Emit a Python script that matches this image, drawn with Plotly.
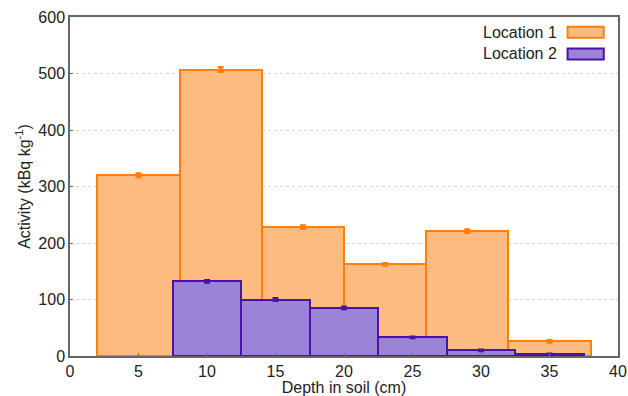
import plotly.graph_objects as go

# Data
loc1_depth = [5, 11, 17, 23, 29, 35]
loc1_width = [6, 6, 6, 6, 6, 6]
loc1_activity = [320, 507, 228, 162, 221, 26]
loc1_err = [3, 4, 3, 2, 3, 2]

loc2_depth = [10, 15, 20, 25, 30, 35]
loc2_width = [5, 5, 5, 5, 5, 5]
loc2_activity = [132, 100, 85, 33, 10, 3]
loc2_err = [2, 2, 2, 1, 1, 1]

x_ticks = [0, 5, 10, 15, 20, 25, 30, 35, 40]
y_ticks = [0, 100, 200, 300, 400, 500, 600]

orange_line = "#FF7F0E"
orange_fill = "#FDBB80"
purple_line = "#4A12A8"
purple_fill = "#9B84D6"

FONT = "Liberation Sans, Arial, sans-serif"
FS = 16

fig = go.Figure()
fig.add_trace(go.Bar(
    x=loc1_depth, y=loc1_activity, width=loc1_width, name="Location 1",
    marker=dict(color=orange_fill, line=dict(color=orange_line, width=2)),
    error_y=dict(type="data", array=loc1_err, color=orange_line, thickness=2.5, width=3),
    showlegend=False,
))
fig.add_trace(go.Bar(
    x=loc2_depth, y=loc2_activity, width=loc2_width, name="Location 2",
    marker=dict(color=purple_fill, line=dict(color=purple_line, width=2)),
    error_y=dict(type="data", array=loc2_err, color=purple_line, thickness=2.5, width=3),
    showlegend=False,
))

# Manual legend (text left of swatch, as in reference)
legend_items = [("Location 1", orange_fill, orange_line), ("Location 2", purple_fill, purple_line)]
for i, (label, fc, lc) in enumerate(legend_items):
    yc = 0.955 - i * 0.064
    fig.add_annotation(xref="paper", yref="paper", x=0.893, y=yc, text=label,
                       showarrow=False, xanchor="right", yanchor="middle",
                       font=dict(family=FONT, size=FS, color="#222"))
    fig.add_shape(type="rect", xref="paper", yref="paper",
                  x0=0.908, x1=0.974, y0=yc - 0.016, y1=yc + 0.016,
                  fillcolor=fc, line=dict(color=lc, width=2))

fig.update_layout(
    width=628, height=396,
    margin=dict(l=70, r=10, t=17, b=40),
    barmode="overlay",
    bargap=0,
    plot_bgcolor="white", paper_bgcolor="white",
    font=dict(family=FONT, size=FS, color="#222"),
    xaxis=dict(range=[0, 40], tickvals=x_ticks, showgrid=False, zeroline=False,
               automargin=False,
               showline=True, linecolor="#666", linewidth=1.5, mirror=True,
               ticks="inside", ticklen=3, tickcolor="#666",
               title=dict(text="Depth in soil (cm)", standoff=0, font=dict(size=FS))),
    yaxis=dict(range=[0, 600], tickvals=y_ticks, showgrid=True, gridcolor="#d4d4d4",
               griddash="dot", gridwidth=1, zeroline=False, automargin=False,
               showline=True, linecolor="#666", linewidth=1.5, mirror=True,
               ticks="inside", ticklen=3, tickcolor="#666",
               title=dict(text="Activity (kBq kg<sup>-1</sup>)", standoff=4, font=dict(size=FS))),
)

fig.write_html("out.html")
